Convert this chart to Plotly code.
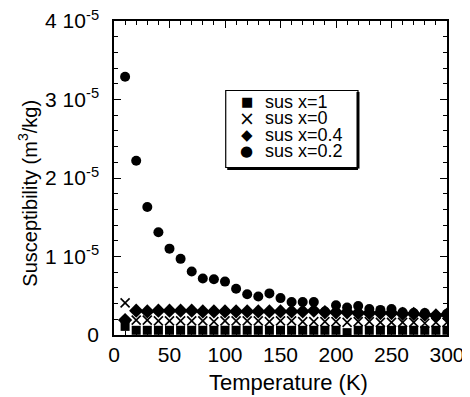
import plotly.graph_objects as go

temperature = [10, 20, 30, 40, 50, 60, 70, 80, 90, 100, 110, 120, 130, 140, 150,
               160, 170, 180, 190, 200, 210, 220, 230, 240, 250, 260, 270, 280, 290, 300]

# values in units of 1e-5 m^3/kg
sus_x1 = [0.11, 0.06, 0.06, 0.06, 0.06, 0.06, 0.06, 0.06, 0.06, 0.06, 0.06, 0.06, 0.06, 0.06, 0.06,
          0.06, 0.06, 0.06, 0.06, 0.06, 0.03, 0.06, 0.06, 0.06, 0.06, 0.06, 0.06, 0.06, 0.06, 0.06]
sus_x0 = [0.41, 0.19, 0.19, 0.18, 0.18, 0.18, 0.18, 0.18, 0.17, 0.18, 0.18, 0.18, 0.18, 0.17, 0.18,
          0.18, 0.17, 0.17, 0.17, 0.17, 0.16, 0.17, 0.17, 0.16, 0.16, 0.16, 0.16, 0.15, 0.16, 0.16]
sus_x04 = [0.19, 0.31, 0.30, 0.31, 0.31, 0.31, 0.31, 0.30, 0.30, 0.30, 0.30, 0.30, 0.30, 0.30, 0.30,
           0.30, 0.30, 0.31, 0.29, 0.29, 0.29, 0.28, 0.28, 0.28, 0.28, 0.27, 0.27, 0.26, 0.25, 0.26]
sus_x02 = [3.29, 2.22, 1.63, 1.31, 1.10, 0.97, 0.81, 0.72, 0.71, 0.68, 0.59, 0.52, 0.49, 0.53, 0.47,
           0.42, 0.42, 0.42, 0.30, 0.38, 0.35, 0.37, 0.33, 0.32, 0.33, 0.29, 0.28, 0.28, 0.24, 0.27]

series_names = ["sus x=1", "sus x=0", "sus x=0.4", "sus x=0.2"]
legend_glyphs = ["\u25A0", "\u00D7", "\u25C6", "\u25CF"]

y_tick_values = [0, 1e-5, 2e-5, 3e-5, 4e-5]
y_tick_labels = ["0", "1 10<sup>-5</sup>", "2 10<sup>-5</sup>", "3 10<sup>-5</sup>", "4 10<sup>-5</sup>"]

scale = 1e-5
markers = [
    dict(symbol="square", size=9, color="black"),
    dict(symbol="x-thin-open", size=9, color="black", line=dict(width=1.6, color="black")),
    dict(symbol="diamond", size=11, color="black"),
    dict(symbol="circle", size=10, color="black"),
]
values = [sus_x1, sus_x0, sus_x04, sus_x02]

FONT = "Liberation Sans, Arial, Helvetica, sans-serif"

fig = go.Figure()
for name, vals, marker in zip(series_names, values, markers):
    fig.add_trace(go.Scatter(x=temperature, y=[v * scale for v in vals], mode="markers",
                             name=name, marker=marker, showlegend=False))

axis_common = dict(showline=True, linecolor="black", linewidth=1.5, mirror="allticks",
                   ticks="inside", tickcolor="black", ticklen=7, tickwidth=1.2,
                   showgrid=False, zeroline=False, automargin=False,
                   ticklabeloverflow="allow",
                   tickfont=dict(family=FONT, size=21, color="black"))

fig.update_xaxes(range=[0, 300], tickmode="linear", tick0=0, dtick=50,
                 minor=dict(ticks="inside", dtick=10, tick0=0, ticklen=4, tickcolor="black"),
                 ticklabelstandoff=0,
                 **axis_common)
fig.update_yaxes(range=[0, 4e-5], tickmode="array", tickvals=y_tick_values, ticktext=y_tick_labels,
                 minor=dict(ticks="inside", dtick=2e-6, tick0=0, ticklen=4, tickcolor="black"),
                 ticklabelstandoff=9,
                 **axis_common)

fig.add_annotation(text="Temperature (K)", xref="paper", yref="paper", x=0.523, y=0,
                   yshift=-47, xanchor="center", yanchor="middle", showarrow=False,
                   font=dict(family=FONT, size=22, color="black"))
fig.add_annotation(text="Susceptibility (m<sup>3</sup>/kg)", xref="paper", yref="paper", x=0, y=0.45,
                   xshift=-86, xanchor="center", yanchor="middle", textangle=-90, showarrow=False,
                   font=dict(family=FONT, size=20, color="black"))

# legend frame with drop shadow
fig.add_shape(type="rect", xref="paper", yref="paper", x0=0.3355, x1=0.7327, y0=0.5334, y1=0.7787,
              line=dict(color="black", width=1.2), fillcolor="white", layer="above")
fig.add_shape(type="line", xref="paper", yref="paper", x0=0.7327, x1=0.7327, y0=0.530, y1=0.774,
              line=dict(color="black", width=3), layer="above")
fig.add_shape(type="line", xref="paper", yref="paper", x0=0.34, x1=0.7327, y0=0.530, y1=0.530,
              line=dict(color="black", width=3), layer="above")

legend_rows_y = [0.7436, 0.691, 0.6385, 0.586]
glyph_sizes = [13, 19, 15, 15]
for name, glyph, gsize, ry in zip(series_names, legend_glyphs, glyph_sizes, legend_rows_y):
    fig.add_annotation(text=glyph, xref="paper", yref="paper", x=0.399, y=ry,
                       xanchor="center", yanchor="middle", showarrow=False,
                       font=dict(family="DejaVu Sans", size=gsize, color="black"))
    fig.add_annotation(text=name, xref="paper", yref="paper", x=0.447, y=ry,
                       xanchor="left", yanchor="middle", showarrow=False,
                       font=dict(family=FONT, size=18, color="black"))

# the page body adds an 8px offset, so the figure is sized to fill the rest of the window
fig.update_layout(
    width=462, height=389,
    margin=dict(l=106, r=23, t=13, b=62),
    plot_bgcolor="white", paper_bgcolor="white",
    showlegend=False,
    font=dict(family=FONT, color="black"),
)

fig.write_html("out.html")
